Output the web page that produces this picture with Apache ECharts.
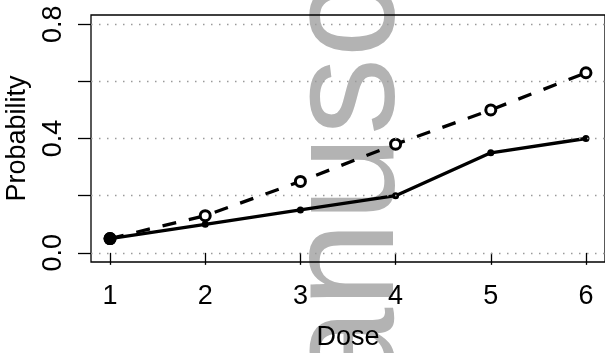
<!DOCTYPE html>
<html>
<head>
<meta charset="utf-8">
<script src="https://cdn.jsdelivr.net/npm/echarts@6/dist/echarts.min.js"></script>
<style>html,body{margin:0;padding:0;background:#fff}#c{width:605px;height:353px}</style>
</head>
<body>
<div id="c"></div>
<script>
var doses = [1, 2, 3, 4, 5, 6];
var solidValues = [0.05, 0.10, 0.15, 0.20, 0.35, 0.40];
var dashedValues = [0.05, 0.13, 0.25, 0.38, 0.50, 0.63];
var yTickValues = [0, 0.2, 0.4, 0.6, 0.8];
var yLabelValues = [0, 0.4, 0.8];
var xTickValues = [1, 2, 3, 4, 5, 6];
var xTitle = 'Dose';
var yTitle = 'Probability';
var watermark = 'manuscript';

var chart = echarts.init(document.getElementById('c'));
var FONT = '"Liberation Sans", Arial, sans-serif';
function pairs(vals) { return doses.map(function (d, i) { return [d, vals[i]]; }); }

var solidData = pairs(solidValues).map(function (p, i) {
  return i === 0 ? { value: p, symbolSize: 13 } : { value: p };
});

chart.setOption({
  animation: false,
  backgroundColor: '#ffffff',
  graphic: [{
    type: 'text', x: 428, y: 523, rotation: Math.PI / 2, z: -10, silent: true,
    style: { text: watermark, font: '155px ' + FONT, fill: '#b3b3b3', align: 'left', verticalAlign: 'bottom' }
  }],
  grid: { left: 91, right: 0, top: 15, bottom: 91, outerBoundsMode: 'none', containLabel: false,
    show: true, borderColor: '#000', borderWidth: 1.3, backgroundColor: 'transparent' },
  xAxis: {
    type: 'value', min: 0.8, max: 6.2,
    name: xTitle, nameLocation: 'middle', nameGap: 62,
    nameTextStyle: { fontFamily: FONT, fontSize: 27, color: '#000' },
    axisLine: { show: false },
    splitLine: { show: false },
    axisTick: { show: true, inside: false, length: 12, customValues: xTickValues, lineStyle: { color: '#000', width: 1.3 } },
    axisLabel: { customValues: xTickValues, margin: 21, fontFamily: FONT, fontSize: 27, color: '#000' }
  },
  yAxis: {
    type: 'value', min: -0.032, max: 0.832,
    name: yTitle, nameLocation: 'middle', nameGap: 60,
    nameTextStyle: { fontFamily: FONT, fontSize: 27, color: '#000' },
    axisLine: { show: false },
    splitLine: { show: false },
    axisTick: { show: true, inside: false, length: 13, customValues: yTickValues, lineStyle: { color: '#000', width: 1.3 } },
    axisLabel: { customValues: yLabelValues, rotate: 90, margin: 24, fontFamily: FONT, fontSize: 27, color: '#000',
      formatter: function (v) { return v.toFixed(1); } }
  },
  series: [
    {
      type: 'line', data: pairs(dashedValues), z: 3,
      symbol: 'circle', symbolSize: 10,
      lineStyle: { color: '#000', width: 3.3, type: [14, 13] },
      itemStyle: { color: '#ffffff', borderColor: '#000000', borderWidth: 3 },
      markLine: {
        silent: true, symbol: 'none', label: { show: false },
        lineStyle: { color: '#9a9a9a', width: 1.3, type: [1.5, 6.5] },
        data: yTickValues.map(function (v) { return { yAxis: v }; })
      }
    },
    {
      type: 'line', data: solidData, z: 4,
      symbol: 'circle', symbolSize: 7,
      lineStyle: { color: '#000', width: 3.3 },
      itemStyle: { color: '#000' }
    }
  ]
});
</script>
</body>
</html>
